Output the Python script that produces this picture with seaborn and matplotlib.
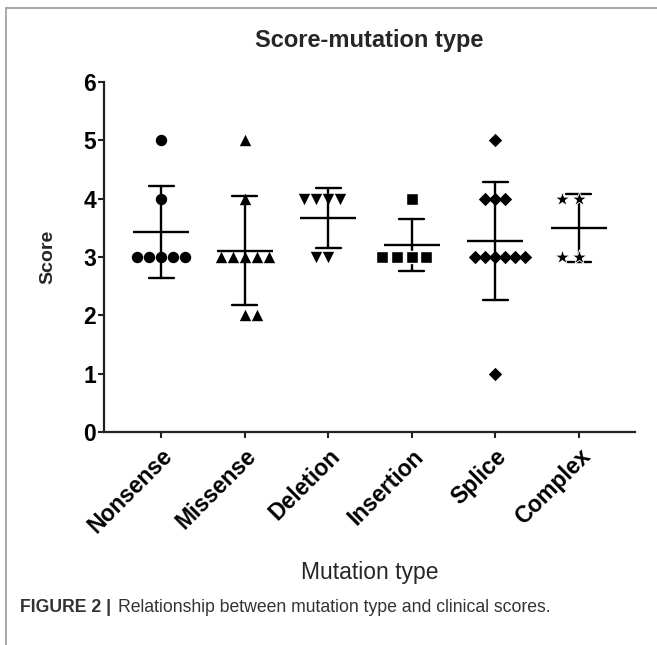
import numpy as np
import pandas as pd
import matplotlib
matplotlib.use("Agg")
import matplotlib.pyplot as plt
from matplotlib.lines import Line2D
import seaborn as sns


CATEGORIES = ["Nonsense", "Missense", "Deletion", "Insertion", "Splice", "Complex"]
NONSENSE = [5, 4, 3, 3, 3, 3, 3]
MISSENSE = [5, 4, 3, 3, 3, 3, 3, 2, 2]
DELETION = [4, 4, 4, 4, 3, 3]
INSERTION = [4, 3, 3, 3, 3]
SPLICE = [5, 4, 4, 4, 3, 3, 3, 3, 3, 3, 1]
COMPLEX = [4, 4, 3, 3]
MARKERS = ["o", "^", "v", "s", "D", "*"]
Y_TICKS = [0, 1, 2, 3, 4, 5, 6]


def build_frame():
	values = [NONSENSE, MISSENSE, DELETION, INSERTION, SPLICE, COMPLEX]
	rows = []
	for cat, vals in zip(CATEGORIES, values):
		for v in vals:
			rows.append({"Mutation type": cat, "Score": v})
	return pd.DataFrame(rows)


def plot_chart(df):
	sns.set_style("white")
	plt.rcParams["font.family"] = ["Liberation Sans", "DejaVu Sans"]
	fig = plt.figure(figsize=(6.57, 6.45), dpi=100)
	ax = fig.add_axes([0.159, 0.330, 0.808, 0.543])

	# marker size, white edge width
	styles = {
		"o": (8.2, 0.0),
		"^": (8.2, 0.0),
		"v": (8.2, 0.0),
		"s": (9.0, 1.0),
		"D": (6.8, 0.0),
		"*": (11.0, 0.6),
	}
	for cat, marker in zip(CATEGORIES, MARKERS):
		sub = df[df["Mutation type"] == cat]
		size, edge = styles[marker]
		sns.swarmplot(
			data=sub,
			x="Mutation type",
			y="Score",
			order=CATEGORIES,
			marker=marker,
			color="black",
			size=size,
			linewidth=edge,
			edgecolor="white",
			ax=ax,
			warn_thresh=1
		)

	sns.pointplot(
		data=df,
		x="Mutation type",
		y="Score",
		order=CATEGORIES,
		errorbar="sd",
		capsize=0.3,
		linestyle="none",
		marker="_",
		markersize=40,
		markeredgewidth=1.7,
		color="black",
		err_kws={"linewidth": 1.7},
		ax=ax
	)

	ax.set_xlim(-0.68, 5.68)
	ax.set_ylim(0, 6)
	ax.set_yticks(Y_TICKS)
	ax.set_yticklabels([str(t) for t in Y_TICKS], fontsize=16.5, fontweight="bold")
	ax.set_xticks(range(len(CATEGORIES)))
	ax.set_xticklabels(CATEGORIES, rotation=45, ha="right", rotation_mode="anchor",
		fontsize=16.5, fontweight="bold")
	ax.tick_params(axis="both", direction="out", length=4, width=1.5, colors="#222222",
		labelcolor="black", left=True, bottom=True)
	ax.tick_params(axis="y", pad=2)
	ax.tick_params(axis="x", pad=5)
	for side in ["top", "right"]:
		ax.spines[side].set_visible(False)
	for side in ["left", "bottom"]:
		ax.spines[side].set_linewidth(1.6)
		ax.spines[side].set_color("#222222")
	ax.set_xlabel("")
	ax.set_ylabel("Score", fontsize=14, fontweight="bold", labelpad=19)

	fig.text(369 / 657, 1 - 40 / 645, "Score-mutation type", ha="center", va="center",
		fontsize=17, fontweight="bold")
	fig.text(370 / 657, 1 - 572 / 645, "Mutation type", ha="center", va="center", fontsize=16.5)
	fig.text(20 / 657, 1 - 607 / 645, "FIGURE 2 |", ha="left", va="center",
		fontsize=12.7, fontweight="bold", color="#333333")
	fig.text(118 / 657, 1 - 607 / 645, "Relationship between mutation type and clinical scores.",
		ha="left", va="center", fontsize=12.7, color="#333333")

	frame_color = "#999999"
	fig.add_artist(Line2D([6 / 657, 6 / 657], [0, 1 - 8 / 645], transform=fig.transFigure,
		color=frame_color, linewidth=1.2))
	fig.add_artist(Line2D([6 / 657, 1], [1 - 8 / 645, 1 - 8 / 645], transform=fig.transFigure,
		color=frame_color, linewidth=1.2))

	fig.savefig("out.png", dpi=100)


def main():
	df = build_frame()
	plot_chart(df)


if __name__ == "__main__":
	main()
